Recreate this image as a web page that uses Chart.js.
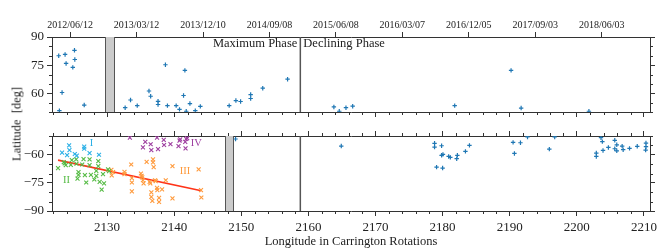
<!DOCTYPE html>
<html>
<head>
<meta charset="utf-8">
<script src="https://cdn.jsdelivr.net/npm/chart.js@4.4.1/dist/chart.umd.min.js"></script>
<style>
  body { margin: 0; background: #fff; }
  #wrap { position: relative; width: 665px; height: 249px; }
  canvas { position: absolute; left: 0; }
  #ylab {
    position: absolute; left: 17px; top: 124px;
    transform: translate(-50%, -50%) rotate(-90deg);
    font: 12.5px 'Liberation Serif', serif; white-space: pre; color: #222;
  }
</style>
</head>
<body>
<div id="wrap">
  <canvas id="north" width="665" height="124" style="top:0"></canvas>
  <canvas id="south" width="665" height="125" style="top:124px"></canvas>
  <div id="ylab">Latitude  [deg]</div>
</div>
<script>
// x range in Carrington rotations
const X_MIN = 2121.8, X_MAX = 2210.9;
const majorX = [2130, 2140, 2150, 2160, 2170, 2180, 2190, 2200, 2210];
const dateRots = [2124.5, 2134.4, 2144.3, 2154.2, 2164.1, 2174.0, 2183.9, 2193.8, 2203.7];
const dateLabels = ['2012/06/12', '2013/03/12', '2013/12/10', '2014/09/08', '2015/06/08',
                    '2016/03/07', '2016/12/05', '2017/09/03', '2018/06/03'];
const majorLatN = [60, 75, 90];
const majorLatS = [-90, -75, -60];

// north hemisphere detections (top panel)
const northRot = [2122.8, 2123.75, 2123.9, 2125.15, 2125.2, 2124.9, 2123.3, 2122.9, 2126.6,
  2132.7, 2133.5, 2134.5, 2136.25, 2136.5, 2137.6, 2137.6, 2138.7, 2139.0, 2141.6, 2140.3,
  2140.8, 2141.4, 2141.8, 2142.35, 2143.15, 2143.9, 2148.2, 2149.2, 2149.9, 2151.4, 2151.4,
  2153.2, 2156.9, 2163.8, 2164.6, 2165.6, 2166.6, 2181.8, 2190.2, 2191.7, 2201.8];
const northLat = [80.0, 80.7, 75.9, 82.9, 78.0, 73.8, 60.4, 50.7, 53.7,
  52.3, 56.4, 53.4, 61.2, 58.4, 55.7, 54.0, 75.2, 53.4, 72.2, 53.4,
  51.4, 58.8, 50.4, 54.5, 50.7, 53.0, 53.4, 56.1, 55.6, 57.2, 59.3,
  62.7, 67.5, 52.7, 50.4, 52.3, 53.1, 53.4, 72.2, 52.1, 50.4];

// south hemisphere detections (bottom panel, not grouped)
const southRot = [2149.15, 2164.9, 2178.8, 2178.8, 2179.85, 2179.85, 2180.05, 2179.1, 2180.0,
  2180.9, 2181.15, 2182.2, 2182.1, 2183.4, 2184.0, 2190.5, 2191.6, 2190.7, 2192.65, 2195.9,
  2196.7, 2203.6, 2203.8, 2202.9, 2202.9, 2203.9, 2204.7, 2205.65, 2205.95, 2205.65, 2205.95,
  2206.75, 2206.9, 2207.85, 2209.0, 2210.3, 2210.3, 2210.25];
const southLat = [-51.6, -55.35, -53.9, -55.9, -55.2, -60.3, -59.8, -66.6, -67.1,
  -60.9, -61.4, -60.3, -62.1, -58.2, -55.0, -53.4, -53.6, -59.3, -50.5, -57.0,
  -50.5, -50.9, -53.0, -59.1, -60.9, -57.7, -56.1, -52.3, -54.7, -56.8, -57.9,
  -55.4, -57.3, -56.6, -55.5, -53.75, -55.7, -57.5];

// grouped detections I..IV
const groupIRot = [2123.3, 2124.05, 2124.35, 2124.4, 2125.2, 2125.5, 2126.6, 2126.6, 2127.4, 2128.8];
const groupILat = [-58.9, -60.2, -55.0, -57.5, -59.6, -60.5, -55.7, -56.8, -59.1, -60.0];

const groupIIRot = [2122.7, 2123.55, 2123.7, 2123.85, 2124.75, 2124.6, 2125.4, 2125.45, 2125.75,
  2125.75, 2125.6, 2126.3, 2126.5, 2126.7, 2126.9, 2127.4, 2127.4, 2127.6, 2128.1, 2128.4,
  2128.4, 2128.7, 2128.7, 2128.9, 2129.2, 2129.4, 2129.55, 2130.15, 2130.3];
const groupIILat = [-67.1, -63.9, -64.6, -65.5, -62.85, -65.4, -62.5, -64.8, -69.3,
  -70.7, -72.7, -65.2, -62.3, -70.9, -74.8, -62.5, -65.5, -70.7, -73.2, -68.6,
  -71.3, -63.4, -66.1, -74.5, -78.6, -70.3, -75.3, -67.8, -68.7];

const groupIIIRot = [2130.65, 2130.9, 2130.7, 2132.6, 2132.6, 2133.6, 2133.7, 2133.7, 2133.7,
  2135.05, 2135.15, 2135.25, 2135.35, 2135.45, 2135.9, 2136.35, 2136.45, 2136.6, 2136.6, 2136.75,
  2136.85, 2136.85, 2136.95, 2137.15, 2137.25, 2137.45, 2137.5, 2137.75, 2137.75, 2138.2,
  2138.75, 2139.75, 2139.75, 2143.65, 2144.0, 2144.05];
const groupIIILat = [-68.0, -69.2, -71.0, -69.1, -70.3, -65.2, -72.5, -74.8, -79.5,
  -70.0, -71.3, -72.1, -73.6, -75.3, -63.8, -74.5, -75.3, -80.1, -82.5, -84.6,
  -62.5, -64.1, -66.6, -73.6, -74.1, -77.7, -78.9, -83.0, -85.2, -78.5,
  -73.6, -66.1, -83.3, -67.8, -78.9, -82.8];

const groupIVRot = [2133.4, 2135.35, 2135.7, 2136.5, 2136.6, 2137.45, 2137.6, 2138.45, 2138.5,
  2139.45, 2140.65, 2140.8, 2140.9, 2141.65, 2141.7, 2141.8, 2141.95];
const groupIVLat = [-50.9, -56.1, -53.1, -54.4, -57.5, -50.9, -57.0, -52.1, -54.8,
  -54.3, -55.4, -52.5, -51.8, -53.1, -56.6, -51.6, -51.2];

// linear fit through groups II/III
const fitRot = [2122.7, 2144.05];
const fitLat = [-62.85, -79.2];

const PHASE_SPLIT = 2158.8;
const FRAME = '#333';
const BLUE = '#1f77b4';
const C_I = '#2bb0e6', C_II = '#55bb44', C_III = '#ff9a3c', C_IV = '#9e3fa0';

Chart.defaults.font.family = "'Liberation Serif', 'Times New Roman', serif";
Chart.defaults.color = '#222';
Chart.defaults.animation = false;

const pts = (xs, ys) => xs.map((x, i) => ({ x, y: ys[i] }));

function minorList(lo, hi, step, skip) {
  const out = [];
  for (let v = lo; v <= hi + 1e-9; v += step) if (!skip.includes(v)) out.push(v);
  return out;
}
const minorX = minorList(2122, 2210, 2, majorX);
const minorLatN = minorList(50, 90, 5, majorLatN);
const minorLatS = minorList(-90, -50, 5, majorLatS);

function edgeAxis(position, size, ticksAt, extra) {
  const horiz = position === 'top' || position === 'bottom';
  return Object.assign({
    type: 'linear', position,
    grid: { display: true, drawOnChartArea: false, drawTicks: true, tickLength: 5,
            color: FRAME, tickColor: FRAME, lineWidth: 1 },
    border: { display: true, color: FRAME, width: 1 },
    ticks: { display: false },
    afterBuildTicks: s => { s.ticks = ticksAt.map(v => ({ value: v })); },
    afterFit: s => { if (horiz) s.height = size; else s.width = size; }
  }, extra);
}

const decor = {
  id: 'decor',
  beforeDatasetsDraw(chart, args, o) {
    const { ctx, chartArea: a } = chart;
    const x = chart.scales.x;
    ctx.save();
    (o.bands || []).forEach(([b0, b1]) => {
      const p0 = Math.round(x.getPixelForValue(b0)) + 0.5;
      const p1 = Math.round(x.getPixelForValue(b1)) + 0.5;
      ctx.fillStyle = '#cbcbcb';
      ctx.fillRect(p0, a.top, p1 - p0, a.bottom - a.top);
      ctx.strokeStyle = '#555';
      ctx.lineWidth = 1;
      ctx.beginPath();
      ctx.moveTo(p0, a.top); ctx.lineTo(p0, a.bottom);
      ctx.moveTo(p1, a.top); ctx.lineTo(p1, a.bottom);
      ctx.stroke();
    });
    (o.lines || []).forEach(v => {
      const p = x.getPixelForValue(v);
      ctx.strokeStyle = '#555';
      ctx.lineWidth = 1.5;
      ctx.beginPath(); ctx.moveTo(p, a.top); ctx.lineTo(p, a.bottom); ctx.stroke();
    });
    ctx.restore();
  },
  afterDatasetsDraw(chart, args, o) {
    const { ctx } = chart;
    const x = chart.scales.x, y = chart.scales.y;
    ctx.save();
    ctx.textBaseline = 'middle';
    (o.texts || []).forEach(t => {
      ctx.font = t.size + "px 'Liberation Serif', serif";
      ctx.fillStyle = t.color;
      ctx.textAlign = t.align || 'center';
      ctx.fillText(t.text, x.getPixelForValue(t.x) + (t.dx || 0), y.getPixelForValue(t.y));
    });
    ctx.restore();
  },
  afterDraw(chart, args, o) {
    // minor tick marks, pointing outward from the frame
    const { ctx, chartArea: a } = chart;
    ctx.save();
    ctx.strokeStyle = FRAME;
    ctx.lineWidth = 1;
    ctx.beginPath();
    (o.minor || []).forEach(({ id, values }) => {
      const s = chart.scales[id];
      values.forEach(v => {
        const p = Math.round(s.getPixelForValue(v)) + 0.5;
        if (s.position === 'bottom') { ctx.moveTo(p, a.bottom); ctx.lineTo(p, a.bottom + 3); }
        if (s.position === 'top') { ctx.moveTo(p, a.top); ctx.lineTo(p, a.top - 3); }
        if (s.position === 'left') { ctx.moveTo(a.left, p); ctx.lineTo(a.left - 3, p); }
        if (s.position === 'right') { ctx.moveTo(a.right, p); ctx.lineTo(a.right + 3, p); }
      });
    });
    ctx.stroke();
    ctx.restore();
  }
};

const baseOpts = {
  responsive: false,
  layout: { padding: 0 },
  plugins: { legend: { display: false }, tooltip: { enabled: false } }
};

// top panel: northern polar region
new Chart(document.getElementById('north'), {
  type: 'scatter',
  data: {
    datasets: [{
      data: pts(northRot, northLat),
      pointStyle: 'cross', pointRadius: 2.2, borderWidth: 1.2,
      borderColor: BLUE, backgroundColor: BLUE
    }]
  },
  options: Object.assign({}, baseOpts, {
    scales: {
      x: edgeAxis('bottom', 12, majorX, { min: X_MIN, max: X_MAX }),
      xTop: edgeAxis('top', 37, dateRots, {
        min: X_MIN, max: X_MAX,
        ticks: { display: true, padding: 1, font: { size: 10 }, maxRotation: 0, autoSkip: false,
                 callback: (v, i) => dateLabels[i] }
      }),
      y: edgeAxis('left', 52, majorLatN, {
        min: 50, max: 90,
        ticks: { display: true, padding: 3, font: { size: 13 }, callback: v => String(v) }
      }),
      yRight: edgeAxis('right', 15, majorLatN, { min: 50, max: 90 })
    },
    plugins: Object.assign({}, baseOpts.plugins, {
      decor: {
        bands: [[2129.7, 2131.0]],
        lines: [PHASE_SPLIT],
        texts: [
          { text: 'Maximum Phase', x: PHASE_SPLIT, dx: -3, y: 86.2, size: 12.5, color: '#222', align: 'right' },
          { text: 'Declining Phase', x: PHASE_SPLIT, dx: 3, y: 86.2, size: 12.5, color: '#222', align: 'left' }
        ],
        minor: [
          { id: 'x', values: minorX },
          { id: 'y', values: minorLatN },
          { id: 'yRight', values: minorLatN }
        ]
      }
    })
  }),
  plugins: [decor]
});

// bottom panel: southern polar region
const groupStyle = c => ({ pointStyle: 'crossRot', pointRadius: 2.8, borderWidth: 1.1,
                           borderColor: c, backgroundColor: c });
new Chart(document.getElementById('south'), {
  type: 'scatter',
  data: {
    datasets: [
      Object.assign({ data: pts(southRot, southLat) },
        { pointStyle: 'cross', pointRadius: 2.2, borderWidth: 1.2, borderColor: BLUE, backgroundColor: BLUE }),
      Object.assign({ data: pts(groupIRot, groupILat) }, groupStyle(C_I)),
      Object.assign({ data: pts(groupIIRot, groupIILat) }, groupStyle(C_II)),
      Object.assign({ data: pts(groupIIIRot, groupIIILat) }, groupStyle(C_III)),
      Object.assign({ data: pts(groupIVRot, groupIVLat) }, groupStyle(C_IV)),
      { data: pts(fitRot, fitLat), showLine: true, pointRadius: 0,
        borderColor: '#ff3318', borderWidth: 1.6 }
    ]
  },
  options: Object.assign({}, baseOpts, {
    scales: {
      x: edgeAxis('bottom', 38, majorX, {
        min: X_MIN, max: X_MAX,
        ticks: { display: true, padding: 4, font: { size: 13 }, maxRotation: 0, autoSkip: false,
                 callback: v => String(v) },
        title: { display: true, text: 'Longitude in Carrington Rotations', font: { size: 12.5 },
                 padding: { top: 0, bottom: 0 }, color: '#222' }
      }),
      xTop: edgeAxis('top', 12, majorX, { min: X_MIN, max: X_MAX }),
      y: edgeAxis('left', 52, majorLatS, {
        min: -90, max: -50,
        ticks: { display: true, padding: 3, font: { size: 13 },
                 callback: v => String(v).replace('-', '\u2212') }
      }),
      yRight: edgeAxis('right', 15, majorLatS, { min: -90, max: -50 })
    },
    plugins: Object.assign({}, baseOpts.plugins, {
      decor: {
        bands: [[2147.55, 2148.75]],
        lines: [PHASE_SPLIT],
        texts: [
          { text: 'I', x: 2127.7, y: -53.6, size: 10.5, color: C_I },
          { text: 'II', x: 2123.95, y: -73.6, size: 10.5, color: C_II },
          { text: 'III', x: 2141.6, y: -68.6, size: 10.5, color: C_III },
          { text: 'IV', x: 2143.3, y: -53.6, size: 10.5, color: C_IV }
        ],
        minor: [
          { id: 'x', values: minorX },
          { id: 'xTop', values: minorX },
          { id: 'y', values: minorLatS },
          { id: 'yRight', values: minorLatS }
        ]
      }
    })
  }),
  plugins: [decor]
});
</script>
</body>
</html>
